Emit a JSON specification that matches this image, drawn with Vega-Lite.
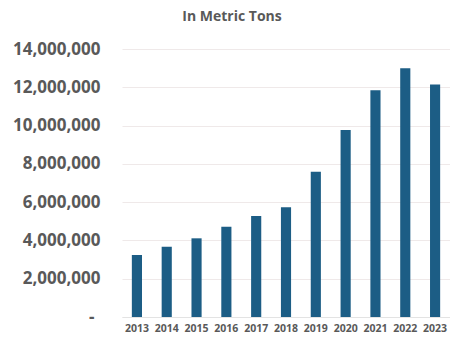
{
  "$schema": "https://vega.github.io/schema/vega-lite/v6.json",
  "width": 328,
  "height": 268,
  "autosize": {"type": "none"},
  "padding": {"left": 122, "top": 49, "right": 0, "bottom": 20},
  "background": "white",
  "title": {
    "text": "In Metric Tons",
    "font": "Open Sans",
    "fontSize": 14,
    "fontWeight": "bold",
    "color": "#595959",
    "anchor": "middle",
    "dx": -54,
    "offset": 16
  },
  "data": {
    "values": [
      {"year": "2013", "tons": 3240000},
      {"year": "2014", "tons": 3670000},
      {"year": "2015", "tons": 4110000},
      {"year": "2016", "tons": 4720000},
      {"year": "2017", "tons": 5270000},
      {"year": "2018", "tons": 5730000},
      {"year": "2019", "tons": 7590000},
      {"year": "2020", "tons": 9770000},
      {"year": "2021", "tons": 11850000},
      {"year": "2022", "tons": 12990000},
      {"year": "2023", "tons": 12150000}
    ]
  },
  "mark": {"type": "bar", "color": "#1c5d85"},
  "encoding": {
    "x": {
      "field": "year",
      "type": "ordinal",
      "scale": {"paddingInner": 0.66, "paddingOuter": 0.33},
      "axis": {
        "title": null,
        "labelAngle": 0,
        "labelFont": "Open Sans",
        "labelFontSize": 10.5,
        "labelFontWeight": "bold",
        "labelColor": "#595959",
        "labelPadding": 6,
        "ticks": false,
        "domainColor": "#e3e3e3",
        "labelOverlap": false
      }
    },
    "y": {
      "field": "tons",
      "type": "quantitative",
      "scale": {"domain": [0, 14000000], "nice": false},
      "axis": {
        "title": null,
        "values": [0, 2000000, 4000000, 6000000, 8000000, 10000000, 12000000, 14000000],
        "labelExpr": "datum.value == 0 ? '-' : format(datum.value, ',')",
        "labelFont": "Open Sans",
        "labelFontSize": 17,
        "labelFontWeight": "bold",
        "labelColor": "#595959",
        "labelPadding": {"condition": {"test": "datum.value == 0", "value": 28}, "value": 22},
        "ticks": false,
        "domain": false,
        "gridColor": "#efe9e9",
        "gridWidth": 1
      }
    }
  },
  "config": {"view": {"stroke": null}}
}
